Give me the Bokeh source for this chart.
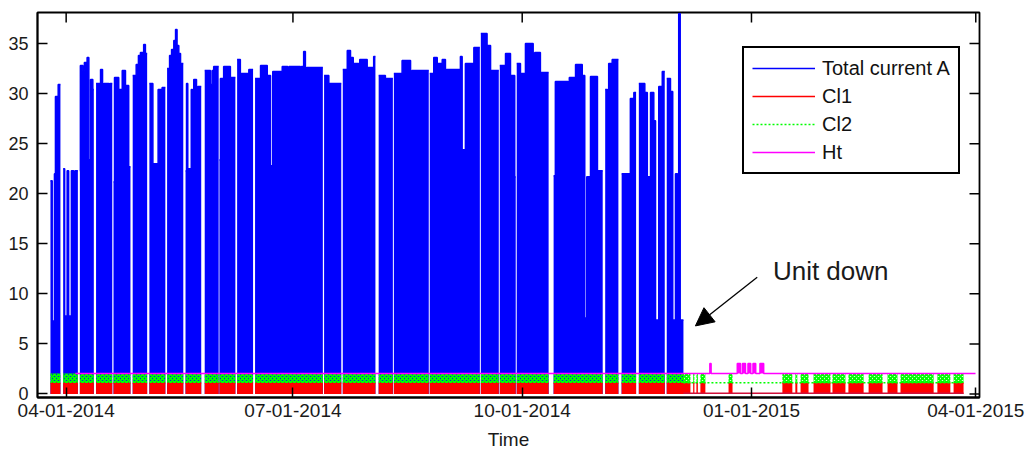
import datetime as dt
from bisect import bisect_right

from bokeh.plotting import figure
from bokeh.models import (Range1d, FixedTicker, DatetimeTickFormatter, Legend,
                          LegendItem, Arrow, NormalHead, Label)
from bokeh.embed import file_html
from bokeh.resources import INLINE

# ---------------------------------------------------------------------------
# Data (time in days counted from 2014-04-01)
# ---------------------------------------------------------------------------
# Total current: peak amps per breakpoint, held until the next breakpoint
total_day = [-6.3, -5.6, -4.7, -4.3, -3.2, -1.2, -0.6, 0.4, 1.0, 2.1, 3.0, 3.5,
             5.7, 6.7, 7.3, 8.4, 9.1, 9.8, 10.7,
             12.0, 13.8, 14.6, 15.1, 17.1, 17.5,
             19.0, 19.4, 21.1, 22.5, 23.8, 25.1,
             26.7, 28.1, 29.0, 29.8, 31.1, 31.8,
             33.4, 34.8, 36.9, 38.5,
             40.5, 41.5, 42.3, 43.2, 43.9, 44.5, 45.2, 45.9,
             47.9, 48.3, 48.8, 50.2, 50.7, 51.2, 52.3, 52.8,
             55.6, 57.9, 58.6, 59.2, 61.5, 61.9, 63.2, 65.9,
             68.6, 69.9, 73.3,
             75.8, 78.0, 80.7, 82.0, 82.9, 86.7, 88.9, 89.4, 94.0, 94.4, 95.3, 96.0, 96.5,
             103.5, 105.4,
             111.0, 112.8, 114.1, 115.2, 117.4, 117.8, 120.8, 123.4,
             125.4, 128.1,
             131.5, 134.8, 138.2, 138.7,
             145.9, 147.5, 148.9, 150.9, 152.2, 152.6, 158.2, 158.9, 160.2, 163.6,
             166.4, 168.9, 170.3,
             174.0, 176.3, 178.3, 180.0,
             180.8, 182.3, 184.3, 187.4, 188.0, 190.3,
             195.6, 196.3, 201.4, 201.9, 204.4, 207.1, 208.1, 208.9, 210.4, 213.2,
             216.3, 217.2, 217.7, 219.1,
             222.9, 226.4, 227.8,
             229.8, 232.2, 233.2, 234.5, 235.8, 236.5, 237.8, 239.2,
             241.0, 242.5, 243.4, 244.5, 245.3, 245.8, 246.4]
total_amp = [21.3, 7.3, 22.0, 29.7, 30.9, 22.5, 7.8, 22.3, 7.8, 22.3, 7.8, 22.3,
             32.8, 32.3, 33.1, 33.6, 23.4, 31.4, 30.4,
             31.0, 32.4, 22.5, 31.0, 22.3, 31.0,
             21.2, 31.6, 30.4, 32.3, 30.8, 22.7,
             31.8, 32.9, 33.8, 34.1, 34.9, 34.0,
             31.0, 23.0, 30.4, 30.6,
             32.5, 33.8, 34.4, 35.3, 36.4, 34.8, 34.0, 33.0,
             22.3, 31.0, 22.5, 30.4, 21.8, 31.4, 22.7, 30.7,
             32.3, 30.9, 32.3, 32.7, 23.4, 31.5, 32.7, 31.6,
             33.4, 32.0, 32.4,
             31.5, 32.8, 31.8, 22.8, 32.2, 32.7, 23.7, 32.7, 22.3, 32.7, 34.2, 22.9, 32.6,
             31.8, 31.0,
             32.4, 34.3, 33.6, 33.0, 7.4, 33.4, 32.6, 33.7,
             31.8, 31.5,
             32.0, 33.3, 23.5, 32.3,
             32.0, 33.6, 33.0, 33.4, 23.7, 32.4, 33.7, 24.4, 33.0, 34.6,
             36.0, 34.8, 32.3,
             32.8, 34.0, 31.8, 21.7,
             33.0, 32.0, 35.0, 23.0, 34.1, 32.1,
             21.8, 31.2, 7.6, 31.6, 32.9, 31.8, 7.6, 21.7, 31.7, 22.3,
             30.4, 7.5, 33.0, 33.4,
             22.0, 29.5, 30.1,
             31.0, 30.1, 21.7, 30.1, 27.3, 7.4, 30.7, 32.2,
             31.5, 30.2, 7.4, 22.0, 21.0, 38.0, 7.4]
total_start = -6.3
total_end = 247.7

# Stretches with no logged samples
gap_start = [-2.3, 4.7, 11.1, 18.5, 25.8, 32.5, 39.8, 47.0, 54.2, 61.2, 67.9, 75.0,
             103.0, 110.4, 124.1, 131.1, 145.5, 166.0, 173.6, 180.4, 193.6, 215.3,
             221.6, 228.7, 240.2]
gap_end = [-1.2, 5.5, 12.0, 19.0, 26.7, 33.4, 40.5, 47.9, 55.6, 61.5, 68.6, 75.8,
           103.5, 111.0, 125.4, 131.5, 145.9, 166.4, 174.0, 180.8, 195.6, 216.3,
           222.9, 229.8, 241.0]

# Compressor stages Cl1 / Cl2
run_end = 250.5
cl1_on = 1.1
cl1_idle = 0.08
cl2_low = 1.13
cl2_high = 2.05
late_start = [251.6, 252.9, 254.5, 265.8, 287.4, 292.6, 294.7, 299.9, 307.5, 313.9,
              322.0, 329.6, 334.8, 349.6, 356.1]
late_end = [252.1, 253.5, 256.5, 267.4, 291.4, 293.4, 297.9, 306.7, 312.7, 320.0,
            327.6, 333.6, 348.1, 354.8, 360.1]
log_end = 360.1

# Heater
ht_start = 3.7
ht_end = 364.9
ht_base = 2.05
ht_peak = 3.05
ht_spike_start = [258.3, 269.3, 271.4, 273.6, 275.6, 278.4]
ht_spike_end = [258.8, 270.6, 272.6, 274.7, 276.7, 279.9]

tick_dates = ["2014-04-01", "2014-07-01", "2014-10-01", "2015-01-01", "2015-04-01"]
y_ticks = [0, 5, 10, 15, 20, 25, 30, 35]

# ---------------------------------------------------------------------------
# Helpers
# ---------------------------------------------------------------------------
DAY_MS = 86400000.0
ORIGIN_MS = (dt.datetime(2014, 4, 1) - dt.datetime(1970, 1, 1)).total_seconds() * 1000.0
NAN = float("nan")


def to_ms(day):
    return ORIGIN_MS + day * DAY_MS


def date_ms(s):
    d = dt.datetime.strptime(s, "%Y-%m-%d")
    return (d - dt.datetime(1970, 1, 1)).total_seconds() * 1000.0


def split_blocks(t0, t1):
    """Contiguous logged stretches inside [t0, t1]."""
    blocks, cur = [], t0
    for s, e in zip(gap_start, gap_end):
        if e <= t0 or s >= t1:
            continue
        if s > cur:
            blocks.append((cur, s))
        cur = max(cur, e)
    if cur < t1:
        blocks.append((cur, t1))
    return blocks


def amp_at(t):
    i = bisect_right(total_day, t) - 1
    return total_amp[max(i, 0)]


def step_top(b0, b1):
    xs, ys = [b0], [amp_at(b0)]
    for t, a in zip(total_day, total_amp):
        if b0 < t < b1:
            xs += [t, t]
            ys += [ys[-1], a]
    xs.append(b1)
    ys.append(ys[-1])
    return xs, ys


# ---------------------------------------------------------------------------
# Figure
# ---------------------------------------------------------------------------
FONT = "Liberation Sans"
X0, X1 = -11.5, 366.5          # visible time span, days
Y0, Y1 = -0.35, 38.1
FRAME_W, FRAME_H = 942, 385
TICK_PX = 10

p = figure(width=1027, height=452, x_axis_type="datetime",
           output_backend="svg", toolbar_location=None,
           x_range=Range1d(to_ms(X0), to_ms(X1)),
           y_range=Range1d(Y0, Y1),
           min_border_left=37, min_border_right=48,
           min_border_top=12, min_border_bottom=55)
p.grid.visible = False
p.outline_line_color = "black"
p.outline_line_width = 1.8
p.background_fill_color = "white"
p.border_fill_color = "white"

# Total current: filled envelope of the fast on/off cycling
run_blocks = split_blocks(total_start, total_end)
blue_xs, blue_ys, top_x, top_y = [], [], [], []
for b0, b1 in run_blocks:
    xs, ys = step_top(b0, b1)
    mx = [to_ms(x) for x in xs]
    top_x += mx + [NAN]
    top_y += ys + [NAN]
    blue_xs.append(mx + [to_ms(b1), to_ms(b0)])
    blue_ys.append(ys + [0, 0])
p.patches(blue_xs, blue_ys, fill_color="#0000ff", line_color=None)
blue_line = p.line(top_x, top_y, line_color="#0000ff", line_width=1.5)

# Cl1 / Cl2 running stretches
cl_blocks = split_blocks(total_start, run_end) + list(zip(late_start, late_end))
red_xs = [[to_ms(a), to_ms(b), to_ms(b), to_ms(a)] for a, b in cl_blocks]
p.patches(red_xs, [[0, 0, cl1_on, cl1_on]] * len(cl_blocks),
          fill_color="#ff0000", line_color=None)
rx, ry = [], []
for a, b in cl_blocks:
    rx += [to_ms(a), to_ms(b), NAN]
    ry += [cl1_on, cl1_on, NAN]
red_line = p.line(rx, ry, line_color="#ff0000", line_width=1.5)
p.line([to_ms(total_end), to_ms(log_end)], [cl1_idle, cl1_idle],
       line_color="#d0103a", line_width=1.5)

p.patches(red_xs, [[cl1_on, cl1_on, cl2_high, cl2_high]] * len(cl_blocks),
          fill_alpha=0, line_color=None,
          hatch_pattern="diagonal_cross", hatch_color="#00ff00",
          hatch_scale=4, hatch_weight=2)
green_line = p.line([to_ms(total_end), to_ms(log_end)], [cl2_low, cl2_low],
                    line_color="#00ff00", line_width=1.5, line_dash="2 2")

# Heater
hx, hy = [ht_start], [ht_base]
for s, e in zip(ht_spike_start, ht_spike_end):
    hx += [s, s, e, e]
    hy += [ht_base, ht_peak, ht_peak, ht_base]
hx.append(ht_end)
hy.append(ht_base)
p.quad(left=[to_ms(s) for s in ht_spike_start], right=[to_ms(e) for e in ht_spike_end],
       bottom=ht_base, top=ht_peak, fill_color="#ff00ff", line_color=None)
ht_line = p.line([to_ms(x) for x in hx], hy, line_color="#ff00ff", line_width=1.5)

# Axes
x_ticks = [date_ms(s) for s in tick_dates]
fmt = DatetimeTickFormatter(days="%m-%d-%Y", months="%m-%d-%Y", years="%m-%d-%Y")
for ax in p.xaxis:
    ax.ticker = FixedTicker(ticks=x_ticks)
    ax.formatter = fmt
    ax.axis_label = "Time"
for ax in p.yaxis:
    ax.ticker = FixedTicker(ticks=y_ticks)

for ax in p.axis:
    ax.axis_line_color = "black"
    ax.axis_line_width = 1.8
    ax.major_tick_line_color = "black"
    ax.major_tick_line_width = 1.5
    ax.major_tick_in = TICK_PX
    ax.major_tick_out = 0
    ax.minor_tick_line_color = None
    ax.major_label_text_font = FONT
    ax.major_label_text_color = "#1a1a1a"
    ax.axis_label_text_font = FONT
    ax.axis_label_text_font_style = "normal"
    ax.axis_label_text_color = "#1a1a1a"

p.below[0].major_label_text_font_size = "19px"
p.below[0].major_label_standoff = 6
p.below[0].axis_label_text_font_size = "19px"
p.below[0].axis_label_standoff = 9
p.left[0].major_label_text_font_size = "18px"
p.left[0].major_label_standoff = 9

# Box ticks on the top and right edges, pointing inward
dy = TICK_PX * (Y1 - Y0) / FRAME_H
dx = TICK_PX * (to_ms(X1) - to_ms(X0)) / FRAME_W
p.segment(x0=x_ticks, y0=[Y1] * len(x_ticks), x1=x_ticks, y1=[Y1 - dy] * len(x_ticks),
          line_color="black", line_width=1.5)
p.segment(x0=[to_ms(X1)] * len(y_ticks), y0=y_ticks,
          x1=[to_ms(X1) - dx] * len(y_ticks), y1=y_ticks,
          line_color="black", line_width=1.5)

# Legend
legend = Legend(items=[
    LegendItem(label="Total current A", renderers=[blue_line]),
    LegendItem(label="Cl1", renderers=[red_line]),
    LegendItem(label="Cl2", renderers=[green_line]),
    LegendItem(label="Ht", renderers=[ht_line]),
], location=(705, 223))
legend.margin = 0
legend.padding = 8
legend.spacing = 4
legend.glyph_width = 63
legend.glyph_height = 24
legend.label_height = 24
legend.label_standoff = 7
legend.label_text_font = FONT
legend.label_text_font_size = "20px"
legend.label_text_color = "#111111"
legend.border_line_color = "black"
legend.border_line_width = 2
legend.border_line_alpha = 1
legend.background_fill_color = "white"
legend.background_fill_alpha = 1
p.add_layout(legend, "center")

# Annotation
p.add_layout(Arrow(end=NormalHead(size=18, fill_color="black", line_color="black"),
                   x_start=to_ms(277.3), y_start=11.66,
                   x_end=to_ms(252.5), y_end=6.8,
                   line_color="black", line_width=1.3))
p.add_layout(Label(x=to_ms(283.6), y=12.3, text="Unit down",
                   text_font=FONT, text_font_size="26px", text_color="#1a1a1a",
                   text_baseline="alphabetic"))

open("out.html", "w").write(file_html(p, INLINE))
